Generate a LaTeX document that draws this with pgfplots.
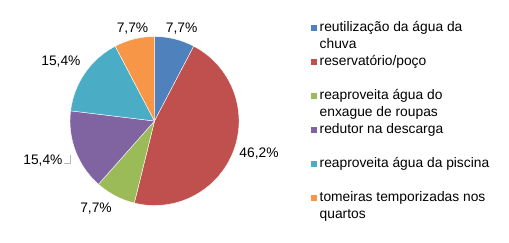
\documentclass[border=0pt]{standalone}
\usepackage{fontspec}
\setmainfont{Liberation Sans}
\usepackage{pgfplots}
\usepackage{pgfplotstable}
\pgfplotsset{compat=1.18}
\definecolor{c1}{HTML}{4F81BD}
\definecolor{c2}{HTML}{C0504D}
\definecolor{c3}{HTML}{9BBB59}
\definecolor{c4}{HTML}{8064A2}
\definecolor{c5}{HTML}{4BACC6}
\definecolor{c6}{HTML}{F79646}
\newcommand\labelfont{\fontsize{13.8bp}{16.8bp}\selectfont}
\pgfplotstableread{
value col lx ly
7.7  c1  0.322  1.101
46.2 c2  1.237 -0.379
7.7  c3 -0.692 -1.030
15.4 c4 -1.320 -0.456
15.4 c5 -1.107  0.710
7.7  c6 -0.260  1.101
}\piedata
\begin{document}
\begin{tikzpicture}
\useasboundingbox (0,0) rectangle (509bp,243bp);
\def\total{0}
\pgfplotsforeachungrouped \i in {0,...,5}{%
  \pgfplotstablegetelem{\i}{value}\of\piedata
  \pgfmathsetmacro\total{\total+\pgfplotsretval}}
\begin{axis}[hide axis, x=84.5bp, y=84.5bp, xmin=-1.5, xmax=1.5, ymin=-1.4, ymax=1.4,
  anchor=origin, at={(154.5bp,122bp)}, clip=false]
\def\cumangle{90}
\pgfplotsforeachungrouped \i in {0,...,5}{%
  \pgfplotstablegetelem{\i}{value}\of\piedata \let\sval\pgfplotsretval
  \pgfplotstablegetelem{\i}{col}\of\piedata \let\slicecol\pgfplotsretval
  \pgfplotstablegetelem{\i}{lx}\of\piedata \let\lx\pgfplotsretval
  \pgfplotstablegetelem{\i}{ly}\of\piedata \let\ly\pgfplotsretval
  \pgfmathsetmacro\endangle{\cumangle-\sval/\total*360}
  \pgfmathsetmacro\sx{cos(\cumangle)}
  \pgfmathsetmacro\sy{sin(\cumangle)}
  \edef\temp{\noexpand\fill[\slicecol,draw=white,line width=0.4bp] (axis cs:0,0) -- (axis cs:\sx,\sy) arc[start angle=\cumangle,end angle=\endangle,radius=84.5bp] -- cycle;}
  \temp
  \edef\temp{\noexpand\node[font=\noexpand\labelfont,text depth=0pt,inner sep=0pt] at (axis cs:\lx,\ly) {\noexpand\pgfmathprintnumber[use comma,fixed,fixed zerofill,precision=1,assume math mode=true]{\sval}\noexpand\%};}
  \temp
  \let\cumangle\endangle
}
\draw[gray!55,line width=0.75bp] (axis cs:-1.071,-0.497) -- (axis cs:-1.0,-0.497) -- (axis cs:-1.0,-0.402);
\end{axis}
% legend
\begin{scope}[font=\labelfont]
\fill[c1] (311bp,211.8bp) rectangle (317bp,217.8bp);
\fill[c2] (311bp,177.7bp) rectangle (317bp,183.7bp);
\fill[c3] (311bp,143.7bp) rectangle (317bp,149.7bp);
\fill[c4] (311bp,109.6bp) rectangle (317bp,115.6bp);
\fill[c5] (311bp,75.6bp) rectangle (317bp,81.6bp);
\fill[c6] (311bp,41.5bp) rectangle (317bp,47.5bp);
\node[anchor=base west,inner sep=0pt] at (319.5bp,211.3bp) {reutilização da água da};
\node[anchor=base west,inner sep=0pt] at (319.5bp,194.5bp) {chuva};
\node[anchor=base west,inner sep=0pt] at (319.5bp,177.2bp) {reservatório/poço};
\node[anchor=base west,inner sep=0pt] at (319.5bp,143.2bp) {reaproveita água do};
\node[anchor=base west,inner sep=0pt] at (319.5bp,126.4bp) {enxague de roupas};
\node[anchor=base west,inner sep=0pt] at (319.5bp,109.1bp) {redutor na descarga};
\node[anchor=base west,inner sep=0pt] at (319.5bp,75.1bp) {reaproveita água da piscina};
\node[anchor=base west,inner sep=0pt] at (319.5bp,41.0bp) {tomeiras temporizadas nos};
\node[anchor=base west,inner sep=0pt] at (319.5bp,24.2bp) {quartos};
\end{scope}
\end{tikzpicture}
\end{document}
